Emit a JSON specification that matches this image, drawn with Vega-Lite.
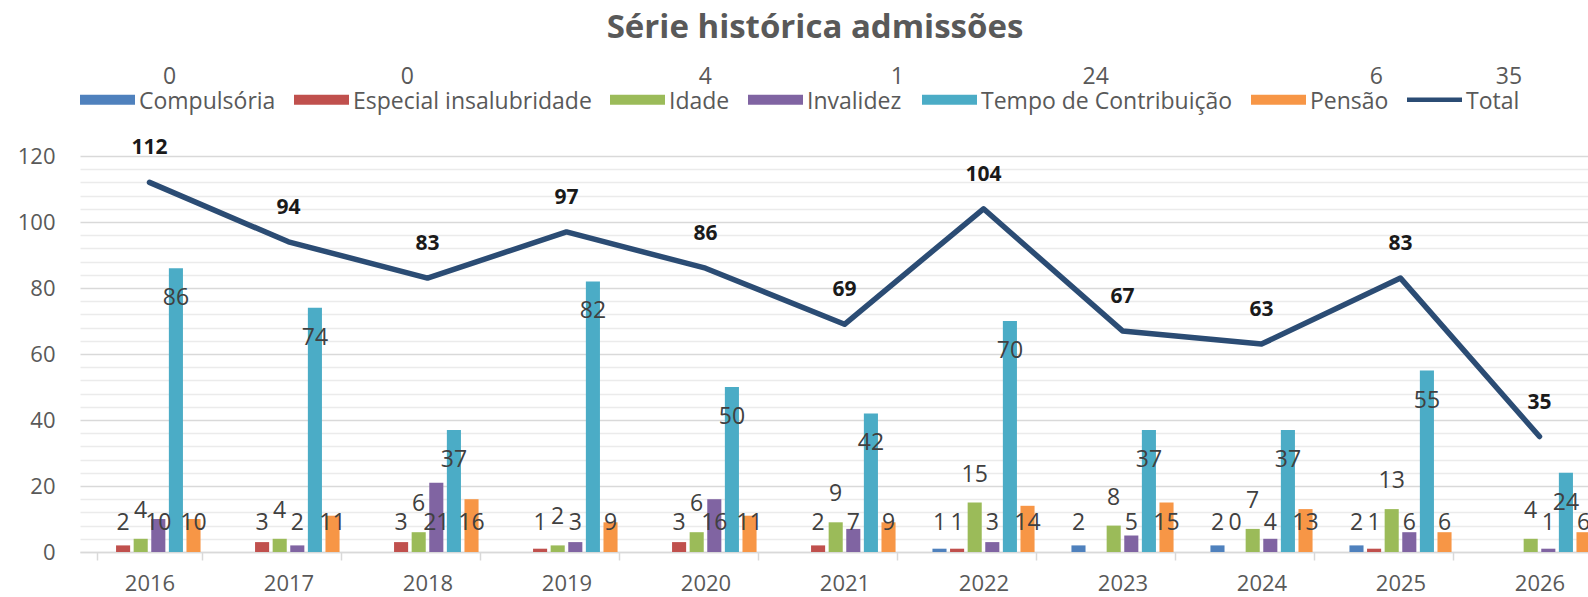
{
  "$schema": "https://vega.github.io/schema/vega-lite/v6.json",
  "width": 1508,
  "height": 396,
  "autosize": "none",
  "padding": {"left": 80, "top": 156, "right": 0, "bottom": 45},
  "background": "white",
  "config": {
    "view": {"stroke": null},
    "font": "Open Sans"
  },
  "title": {
    "text": "Série histórica admissões",
    "font": "Open Sans",
    "fontSize": 33,
    "fontWeight": "bold",
    "color": "#595959",
    "anchor": "middle",
    "dx": -19,
    "offset": 27
  },
  "data": {
    "values": [
      {"year": "2016", "category": "Especial insalubridade", "value": 2},
      {"year": "2016", "category": "Idade", "value": 4},
      {"year": "2016", "category": "Invalidez", "value": 10},
      {"year": "2016", "category": "Tempo de Contribuição", "value": 86},
      {"year": "2016", "category": "Pensão", "value": 10},
      {"year": "2016", "category": "Total", "value": 112},
      {"year": "2017", "category": "Especial insalubridade", "value": 3},
      {"year": "2017", "category": "Idade", "value": 4},
      {"year": "2017", "category": "Invalidez", "value": 2},
      {"year": "2017", "category": "Tempo de Contribuição", "value": 74},
      {"year": "2017", "category": "Pensão", "value": 11},
      {"year": "2017", "category": "Total", "value": 94},
      {"year": "2018", "category": "Especial insalubridade", "value": 3},
      {"year": "2018", "category": "Idade", "value": 6},
      {"year": "2018", "category": "Invalidez", "value": 21},
      {"year": "2018", "category": "Tempo de Contribuição", "value": 37},
      {"year": "2018", "category": "Pensão", "value": 16},
      {"year": "2018", "category": "Total", "value": 83},
      {"year": "2019", "category": "Especial insalubridade", "value": 1},
      {"year": "2019", "category": "Idade", "value": 2},
      {"year": "2019", "category": "Invalidez", "value": 3},
      {"year": "2019", "category": "Tempo de Contribuição", "value": 82},
      {"year": "2019", "category": "Pensão", "value": 9},
      {"year": "2019", "category": "Total", "value": 97},
      {"year": "2020", "category": "Especial insalubridade", "value": 3},
      {"year": "2020", "category": "Idade", "value": 6},
      {"year": "2020", "category": "Invalidez", "value": 16},
      {"year": "2020", "category": "Tempo de Contribuição", "value": 50},
      {"year": "2020", "category": "Pensão", "value": 11},
      {"year": "2020", "category": "Total", "value": 86},
      {"year": "2021", "category": "Especial insalubridade", "value": 2},
      {"year": "2021", "category": "Idade", "value": 9},
      {"year": "2021", "category": "Invalidez", "value": 7},
      {"year": "2021", "category": "Tempo de Contribuição", "value": 42},
      {"year": "2021", "category": "Pensão", "value": 9},
      {"year": "2021", "category": "Total", "value": 69},
      {"year": "2022", "category": "Compulsória", "value": 1},
      {"year": "2022", "category": "Especial insalubridade", "value": 1},
      {"year": "2022", "category": "Idade", "value": 15},
      {"year": "2022", "category": "Invalidez", "value": 3},
      {"year": "2022", "category": "Tempo de Contribuição", "value": 70},
      {"year": "2022", "category": "Pensão", "value": 14},
      {"year": "2022", "category": "Total", "value": 104},
      {"year": "2023", "category": "Compulsória", "value": 2},
      {"year": "2023", "category": "Idade", "value": 8},
      {"year": "2023", "category": "Invalidez", "value": 5},
      {"year": "2023", "category": "Tempo de Contribuição", "value": 37},
      {"year": "2023", "category": "Pensão", "value": 15},
      {"year": "2023", "category": "Total", "value": 67},
      {"year": "2024", "category": "Compulsória", "value": 2},
      {"year": "2024", "category": "Especial insalubridade", "value": 0},
      {"year": "2024", "category": "Idade", "value": 7},
      {"year": "2024", "category": "Invalidez", "value": 4},
      {"year": "2024", "category": "Tempo de Contribuição", "value": 37},
      {"year": "2024", "category": "Pensão", "value": 13},
      {"year": "2024", "category": "Total", "value": 63},
      {"year": "2025", "category": "Compulsória", "value": 2},
      {"year": "2025", "category": "Especial insalubridade", "value": 1},
      {"year": "2025", "category": "Idade", "value": 13},
      {"year": "2025", "category": "Invalidez", "value": 6},
      {"year": "2025", "category": "Tempo de Contribuição", "value": 55},
      {"year": "2025", "category": "Pensão", "value": 6},
      {"year": "2025", "category": "Total", "value": 83},
      {"year": "2026", "category": "Idade", "value": 4},
      {"year": "2026", "category": "Invalidez", "value": 1},
      {"year": "2026", "category": "Tempo de Contribuição", "value": 24},
      {"year": "2026", "category": "Pensão", "value": 6},
      {"year": "2026", "category": "Total", "value": 35}
    ]
  },
  "encoding": {
    "x": {
      "field": "year",
      "type": "ordinal",
      "scale": {"range": [0, 1529], "paddingInner": 0.24, "paddingOuter": 0.12},
      "axis": {
        "title": null,
        "labelAngle": 0,
        "labelFont": "Open Sans",
        "labelFontSize": 22,
        "labelColor": "#595959",
        "labelPadding": 13,
        "domainColor": "#d9d9d9",
        "domainWidth": 1.5,
        "tickColor": "#d9d9d9",
        "tickWidth": 1.5,
        "tickSize": 8,
        "tickBand": "extent",
        "grid": false
      }
    },
    "y": {
      "field": "value",
      "type": "quantitative",
      "scale": {"domain": [0, 120], "nice": false},
      "axis": {
        "title": null,
        "values": [0,4,8,12,16,20,24,28,32,36,40,44,48,52,56,60,64,68,72,76,80,84,88,92,96,100,104,108,112,116,120],
        "labelExpr": "datum.value % 20 === 0 ? datum.label : ''",
        "labelFont": "Open Sans",
        "labelFontSize": 22,
        "labelColor": "#595959",
        "labelPadding": 25,
        "ticks": false,
        "domain": false,
        "grid": true,
        "gridWidth": 1.5,
        "gridColor": {"condition": {"test": "datum.value % 20 === 0", "value": "#d9d9d9"}, "value": "#ebebeb"}
      }
    }
  },
  "layer": [
    {
      "transform": [{"filter": "datum.category !== 'Total'"}],
      "mark": {"type": "bar"},
      "encoding": {
        "xOffset": {
          "field": "category",
          "type": "nominal",
          "scale": {
            "domain": ["Compulsória", "Especial insalubridade", "Idade", "Invalidez", "Tempo de Contribuição", "Pensão"],
            "paddingInner": 0.2,
            "paddingOuter": 0.1
          }
        },
        "color": {
          "field": "category",
          "type": "nominal",
          "scale": {
            "domain": ["Compulsória", "Especial insalubridade", "Idade", "Invalidez", "Tempo de Contribuição", "Pensão", "Total"],
            "range": ["#4f81bd", "#c0504d", "#9bbb59", "#8064a2", "#4bacc6", "#f79646", "#2b4c74"]
          },
          "legend": {
            "title": null,
            "orient": "none",
            "legendX": 0,
            "legendY": -84,
            "direction": "horizontal",
            "columnPadding": 18,
            "labelFont": "Open Sans",
            "labelFontSize": 23,
            "labelColor": "#595959",
            "labelOffset": 4,
            "labelLimit": 400,
            "symbolSize": 3025,
            "symbolType": "M-1,-0.18H1V0.18H-1Z",
            "symbolStrokeWidth": 0,
            "labelExpr": "[(datum.value === 'Compulsória' ? '\u200b\u00a0\u00a0\u00a0\u00a00' : datum.value === 'Especial insalubridade' ? '\u200b\u00a0\u00a0\u00a0\u00a0\u00a0\u00a0\u00a0\u00a00' : datum.value === 'Idade' ? '\u200b\u00a0\u00a0\u00a0\u00a0\u00a04' : datum.value === 'Invalidez' ? '\u200b\u00a0\u00a0\u00a0\u00a0\u00a0\u00a0\u00a0\u00a0\u00a0\u00a0\u00a0\u00a0\u00a0\u00a01' : datum.value === 'Tempo de Contribuição' ? '\u200b\u00a0\u00a0\u00a0\u00a0\u00a0\u00a0\u00a0\u00a0\u00a0\u00a0\u00a0\u00a0\u00a0\u00a0\u00a0\u00a0\u00a024' : datum.value === 'Pensão' ? '\u200b\u00a0\u00a0\u00a0\u00a0\u00a0\u00a0\u00a0\u00a0\u00a0\u00a06' : '\u200b\u00a0\u00a0\u00a0\u00a0\u00a035'), datum.value]",
            "encode": {
              "symbols": {"update": {"shape": {"signal": "datum.value === 'Total' ? 'M-1,-0.08H1V0.08H-1Z' : 'M-1,-0.18H1V0.18H-1Z'"}}},
              "labels": {"update": {"dy": {"value": -23}}}
            }
          }
        }
      }
    },
    {
      "transform": [{"filter": "datum.category === 'Tempo de Contribuição'"}],
      "mark": {"type": "text", "font": "Open Sans", "fontSize": 23, "color": "#404040", "dy": 30},
      "encoding": {
        "xOffset": {"field": "category", "type": "nominal"},
        "text": {"field": "value", "type": "quantitative"}
      }
    },
    {
      "transform": [{"filter": "datum.category === 'Idade'"}],
      "mark": {"type": "text", "font": "Open Sans", "fontSize": 23, "color": "#404040", "dy": -28},
      "encoding": {
        "xOffset": {"field": "category", "type": "nominal"},
        "text": {"field": "value", "type": "quantitative"}
      }
    },
    {
      "transform": [{"filter": "datum.category === 'Compulsória' || datum.category === 'Especial insalubridade' || datum.category === 'Invalidez' || datum.category === 'Pensão'"}],
      "mark": {"type": "text", "font": "Open Sans", "fontSize": 23, "color": "#404040"},
      "encoding": {
        "xOffset": {"field": "category", "type": "nominal"},
        "y": {"datum": 8.8},
        "text": {"field": "value", "type": "quantitative"}
      }
    },
    {
      "transform": [{"filter": "datum.category === 'Total'"}],
      "mark": {"type": "line", "color": "#2b4c74", "strokeWidth": 5.5, "strokeCap": "round", "strokeJoin": "round"},
      "encoding": {}
    },
    {
      "transform": [{"filter": "datum.category === 'Total'"}],
      "mark": {"type": "text", "font": "Open Sans", "fontSize": 21, "fontWeight": "bold", "color": "#1a1a1a", "dy": -34},
      "encoding": {
        "text": {"field": "value", "type": "quantitative"}
      }
    }
  ]
}
